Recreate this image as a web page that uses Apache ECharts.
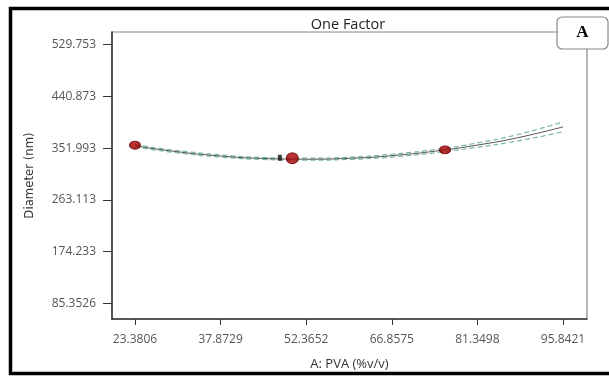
<!DOCTYPE html>
<html>
<head>
<meta charset="utf-8">
<script src="https://cdn.jsdelivr.net/npm/echarts@6/dist/echarts.min.js"></script>
<style>
  html, body { margin: 0; padding: 0; background: #fff; }
  #box { width: 609px; height: 376px; }
</style>
</head>
<body>
<div id="box"></div>
<script>
  // values
  var pvaValues = [23.38, 30, 37.87, 45, 52.37, 60, 66.86, 75, 81.35, 88, 95.84];
  var fitValues = [356, 346.5, 338.5, 334.3, 333, 334.7, 339.1, 347.8, 357.3, 369.5, 388.5];
  var upperValues = [358, 348.5, 340.5, 336, 334.8, 336.6, 341.5, 350.6, 361, 375, 397];
  var lowerValues = [354, 344.5, 336.5, 332.6, 331.2, 332.8, 336.7, 345, 353.6, 364, 380];
  var designX = [23.38, 50.01, 75.86];
  var designY = [357, 334.7, 349.1];
  var markX = [47.9];
  var markY = [335.5];
  var xTicks = [23.3806, 37.8729, 52.3652, 66.8575, 81.3498, 95.8421];
  var yTicks = [85.3526, 174.233, 263.113, 351.993, 440.873, 529.753];

  function pairs(xs, ys) {
    var out = [];
    for (var i = 0; i < xs.length; i++) {
      out.push([xs[i], ys[i]]);
    }
    return out;
  }

  var myChart = echarts.init(document.getElementById('box'));

  var labelFont = {
    color: '#555',
    fontSize: 12,
    fontFamily: 'Open Sans'
  };

  var option = {
    animation: false,
    title: {
      text: 'One Factor',
      left: 343,
      textAlign: 'center',
      top: 12,
      textStyle: { fontSize: 14.5, fontWeight: 'normal', color: '#222', fontFamily: 'Open Sans' }
    },
    grid: {
      left: 112, top: 32, right: 22, bottom: 50,
      show: true,
      borderColor: '#888',
      borderWidth: 1.2
    },
    xAxis: {
      type: 'value',
      min: 19.49,
      max: 99.9,
      name: 'A: PVA (%v/v)',
      nameLocation: 'middle',
      nameGap: 39,
      nameTextStyle: { fontSize: 13, color: '#333', fontFamily: 'Open Sans' },
      splitLine: { show: false },
      axisLine: { show: true, lineStyle: { color: '#333', width: 1.5 } },
      axisTick: { show: true, length: 6, customValues: xTicks, lineStyle: { color: '#333' } },
      axisLabel: Object.assign({
        margin: 15,
        customValues: xTicks,
        formatter: function (v) { return String(v); }
      }, labelFont)
    },
    yAxis: {
      type: 'value',
      min: 58.5,
      max: 551.5,
      name: 'Diameter (nm)',
      nameLocation: 'middle',
      nameGap: 76,
      nameTextStyle: {
        fontSize: 13,
        color: '#333',
        fontFamily: '"DejaVu Sans Condensed", "Liberation Sans Narrow", "Roboto Condensed", sans-serif'
      },
      splitLine: { show: false },
      axisLine: { show: true, lineStyle: { color: '#333', width: 1.5 } },
      axisTick: { show: true, length: 9, customValues: yTicks, lineStyle: { color: '#333' } },
      axisLabel: Object.assign({
        margin: 16,
        customValues: yTicks,
        formatter: function (v) { return String(v); }
      }, labelFont)
    },
    series: [
      {
        name: 'upper',
        type: 'line',
        smooth: true,
        symbol: 'none',
        data: pairs(pvaValues, upperValues),
        lineStyle: { color: '#78b8ab', width: 1.2, type: [5, 3] },
        z: 2
      },
      {
        name: 'lower',
        type: 'line',
        smooth: true,
        symbol: 'none',
        data: pairs(pvaValues, lowerValues),
        lineStyle: { color: '#78b8ab', width: 1.2, type: [5, 3] },
        z: 2
      },
      {
        name: 'fit',
        type: 'line',
        smooth: true,
        symbol: 'none',
        data: pairs(pvaValues, fitValues),
        lineStyle: { color: '#555', width: 1 },
        z: 3
      },
      {
        name: 'design points',
        type: 'scatter',
        data: pairs(designX, designY),
        symbol: 'circle',
        symbolSize: function (v, p) { return p.dataIndex === 1 ? [12, 11] : [11, 8]; },
        itemStyle: { color: '#a80000', borderColor: '#600', borderWidth: 1 },
        z: 5
      },
      {
        name: 'mark',
        type: 'scatter',
        data: pairs(markX, markY),
        symbol: 'rect',
        symbolSize: [4, 6],
        itemStyle: { color: '#111' },
        z: 4
      }
    ],
    graphic: [
      {
        type: 'rect',
        shape: { x: 10.5, y: 8.5, width: 620, height: 365 },
        style: { fill: 'none', stroke: '#000', lineWidth: 3.5 },
        z: 10
      },
      {
        type: 'rect',
        shape: { x: 557, y: 17, width: 51, height: 32, r: 5 },
        style: { fill: '#fff', stroke: '#888', lineWidth: 1.2 },
        z: 11
      },
      {
        type: 'text',
        x: 582.5,
        y: 33,
        style: {
          text: 'A',
          fill: '#000',
          font: 'bold 17px "Liberation Serif"',
          align: 'center',
          verticalAlign: 'middle'
        },
        z: 12
      }
    ]
  };

  myChart.setOption(option);
</script>
</body>
</html>
